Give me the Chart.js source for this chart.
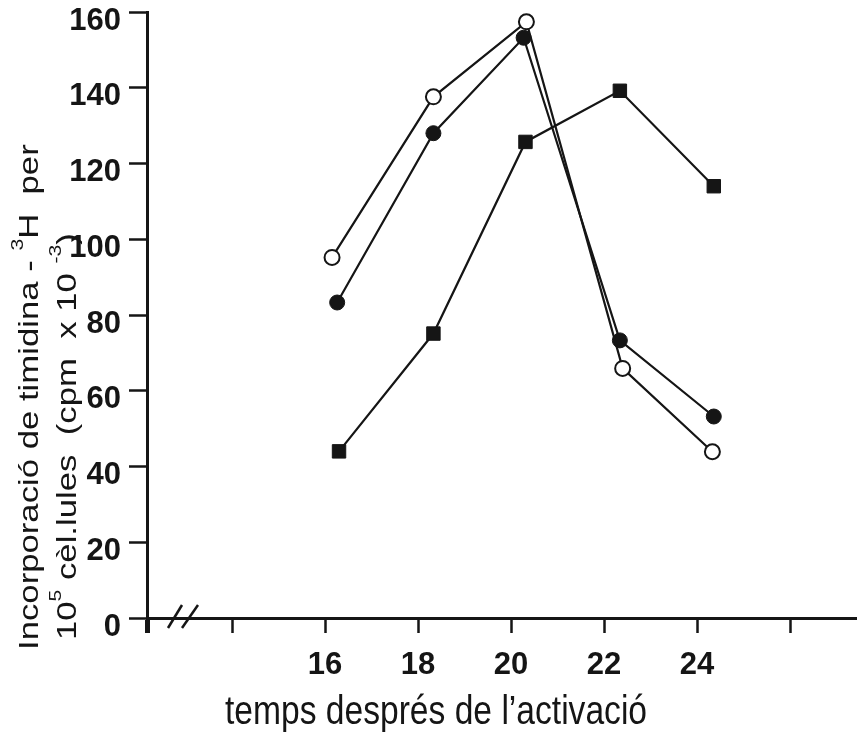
<!DOCTYPE html>
<html>
<head>
<meta charset="utf-8">
<script src="https://cdn.jsdelivr.net/npm/chart.js@4.4.1/dist/chart.umd.min.js"></script>
<style>
  html, body { margin: 0; padding: 0; background: #fff; }
  #wrap { width: 857px; height: 746px; }
</style>
</head>
<body>
<div id="wrap"><canvas id="c" width="857" height="746"></canvas></div>
<script>
// ---- data ----
const xOpen   = [16.15, 18.33, 20.33, 22.40, 24.33];
const yOpen   = [95.2, 137.6, 157.4, 65.9, 43.9];
const xFilled = [16.26, 18.33, 20.27, 22.34, 24.36];
const yFilled = [83.3, 128.0, 153.2, 73.3, 53.2];
const xSquare = [16.30, 18.33, 20.31, 22.34, 24.36];
const ySquare = [44.0, 75.1, 125.7, 139.2, 114.0];

const xTickValues = [14, 16, 18, 20, 22, 24, 26];
const xTickLabels = ['16', '18', '20', '22', '24'];
const yTickStep = 20;

const xAxisTitle = 'temps després de l\u2019activació';
const yTitleLine1 = ['Incorporació de timidina - ', '3', 'H  per'];
const yTitleLine2 = ['10', '5', ' cèl.lules  (cpm  x 10 ', '-3', ')'];

const X_MIN = 12.17, X_MAX = 27.44;
const INK = '#151515';
const NARROW = "'Liberation Sans Narrow', 'Arial Narrow', 'Liberation Sans', Arial, sans-serif";
const SANS = "'Liberation Sans', Arial, sans-serif";

const toPts = (xs, ys) => xs.map((x, i) => ({ x: x, y: ys[i] }));

const decor = {
  id: 'decor',
  afterDraw(chart) {
    const ctx = chart.ctx;
    const xs = chart.scales.x;
    const ya = chart.scales.y;
    ctx.save();
    // axis break "//"
    const y0 = ya.getPixelForValue(0);
    ctx.strokeStyle = INK;
    ctx.lineWidth = 2.5;
    [[21, 45], [35, 61]].forEach(([a, b]) => {
      ctx.beginPath();
      ctx.moveTo(xs.left + a, y0 + 10);
      ctx.lineTo(xs.left + b - 10, y0 - 13);
      ctx.stroke();
    });
    ctx.fillStyle = INK;
    // x-axis title (condensed look)
    ctx.save();
    ctx.font = '40px ' + SANS;
    ctx.textBaseline = 'alphabetic';
    const w = ctx.measureText(xAxisTitle).width * 0.84;
    ctx.translate(436 - w / 2, ya.bottom + 106);
    ctx.scale(0.84, 1);
    ctx.fillText(xAxisTitle, 0, 0);
    ctx.restore();

    // y-axis title, two rotated lines with superscripts
    const drawLine = (parts, bx, by, supIdx) => {
      ctx.save();
      ctx.translate(bx, by);
      ctx.rotate(-Math.PI / 2);
      ctx.scale(1.24, 1);
      ctx.textBaseline = 'alphabetic';
      let pos = 0;
      parts.forEach((p, i) => {
        const sup = supIdx.includes(i);
        ctx.font = (sup ? '17px ' : '28px ') + SANS;
        ctx.fillText(p, pos, sup ? -15 : 0);
        pos += ctx.measureText(p).width;
      });
      ctx.restore();
    };
    drawLine(yTitleLine1, 38, ya.bottom + 32, [1]);
    drawLine(yTitleLine2, 76, ya.bottom + 22, [1, 3]);
    ctx.restore();
  }
};

new Chart(document.getElementById('c'), {
  type: 'scatter',
  data: {
    datasets: [
      {
        label: 'open',
        data: toPts(xOpen, yOpen),
        showLine: true,
        borderColor: INK, borderWidth: 2.2,
        pointStyle: 'circle', pointRadius: 7.5,
        pointBackgroundColor: '#fff', pointBorderColor: INK, pointBorderWidth: 2
      },
      {
        label: 'filled',
        data: toPts(xFilled, yFilled),
        showLine: true,
        borderColor: INK, borderWidth: 2.2,
        pointStyle: 'circle', pointRadius: 7.5,
        pointBackgroundColor: INK, pointBorderColor: INK, pointBorderWidth: 1
      },
      {
        label: 'square',
        data: toPts(xSquare, ySquare),
        showLine: true,
        borderColor: INK, borderWidth: 2.2,
        pointStyle: 'rect', pointRadius: 9.5,
        pointBackgroundColor: INK, pointBorderColor: INK, pointBorderWidth: 1
      }
    ]
  },
  options: {
    responsive: false,
    animation: false,
    devicePixelRatio: 1,
    layout: { autoPadding: false, padding: { top: 12, right: 0, bottom: 0, left: 0 } },
    plugins: { legend: { display: false }, tooltip: { enabled: false } },
    scales: {
      x: {
        type: 'linear',
        min: X_MIN, max: X_MAX,
        afterBuildTicks(scale) {
          scale.ticks = [X_MIN].concat(xTickValues).map(v => ({ value: v }));
        },
        afterFit(scale) {
          scale.height = 128;
          scale.paddingLeft = 0; scale.paddingRight = 0;
        },
        border: { display: true, color: INK, width: 3 },
        grid: {
          drawOnChartArea: false, drawTicks: true,
          tickLength: 15, tickColor: INK,
          tickWidth: (c) => (c.index === 0 ? 5 : 2.5)
        },
        ticks: {
          autoSkip: false, maxRotation: 0, minRotation: 0,
          padding: 14,
          color: INK,
          font: { family: NARROW, size: 31, weight: 'bold' },
          callback(v) {
            const s = String(v);
            return xTickLabels.includes(s) ? s : '';
          }
        }
      },
      y: {
        type: 'linear',
        min: 0, max: 160,
        afterFit(scale) {
          scale.width = 147;
          scale.paddingTop = 0; scale.paddingBottom = 0;
        },
        border: { display: true, color: INK, width: 3 },
        grid: {
          drawOnChartArea: false, drawTicks: true,
          tickLength: 18, tickColor: INK, tickWidth: 2.5
        },
        ticks: {
          stepSize: yTickStep,
          padding: 8,
          labelOffset: 9,
          color: INK,
          font: { family: NARROW, size: 31, weight: 'bold' }
        }
      }
    }
  },
  plugins: [decor]
});
</script>
</body>
</html>
